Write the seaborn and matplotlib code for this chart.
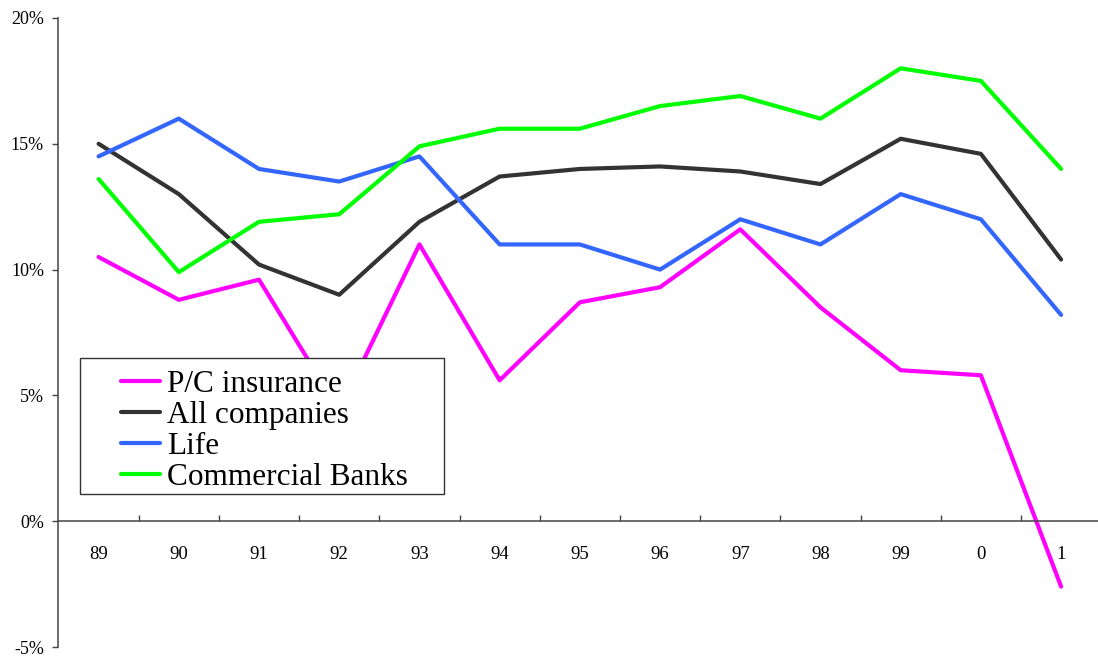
import matplotlib
matplotlib.use("Agg")
import matplotlib.pyplot as plt
import matplotlib.ticker as mticker
from matplotlib.patches import Rectangle
import seaborn as sns
import pandas as pd

years = ["89", "90", "91", "92", "93", "94", "95", "96", "97", "98", "99", "0", "1"]
pc_insurance = [10.5, 8.8, 9.6, 4.4, 11.0, 5.6, 8.7, 9.3, 11.6, 8.5, 6.0, 5.8, -2.6]
all_companies = [15.0, 13.0, 10.2, 9.0, 11.9, 13.7, 14.0, 14.1, 13.9, 13.4, 15.2, 14.6, 10.4]
life = [14.5, 16.0, 14.0, 13.5, 14.5, 11.0, 11.0, 10.0, 12.0, 11.0, 13.0, 12.0, 8.2]
commercial_banks = [13.6, 9.9, 11.9, 12.2, 14.9, 15.6, 15.6, 16.5, 16.9, 16.0, 18.0, 17.5, 14.0]

series_names = ["P/C insurance", "All companies", "Life", "Commercial Banks"]
series_values = [pc_insurance, all_companies, life, commercial_banks]
series_colors = ["#FF00FF", "#333333", "#3366FF", "#00FF00"]

rows = []
for name, vals in zip(series_names, series_values):
    for i, v in enumerate(vals):
        rows.append({"pos": i, "year": years[i], "value": v, "series": name})
df = pd.DataFrame(rows)

sns.set_style("white")
plt.rcParams["font.family"] = ["Liberation Serif", "DejaVu Serif"]
plt.rcParams["text.color"] = "black"
plt.rcParams["xtick.color"] = "black"
plt.rcParams["ytick.color"] = "black"

W, H = 1098, 659
fig = plt.figure(figsize=(W / 100, H / 100), dpi=100)
ax = fig.add_axes([58.5 / W, 1 - 647 / H, (W - 58.5) / W, (647 - 18) / H])

sns.lineplot(data=df, x="pos", y="value", hue="series", hue_order=series_names,
             palette=series_colors, linewidth=3.0, ax=ax, legend=True, sort=False)

ax.set_xlim(-0.5, 12.46)
ax.set_ylim(-5, 20)
ax.set_xlabel("")
ax.set_ylabel("")

axis_color = "#444444"
for side in ["top", "right"]:
    ax.spines[side].set_visible(False)
ax.spines["left"].set_color(axis_color)
ax.spines["left"].set_linewidth(1.1)
ax.spines["bottom"].set_position(("data", 0))
ax.spines["bottom"].set_color(axis_color)
ax.spines["bottom"].set_linewidth(1.1)

ax.yaxis.set_major_locator(mticker.MultipleLocator(5))
ax.yaxis.set_major_formatter(mticker.FuncFormatter(lambda v, p: f"{v:.0f}%"))
ax.tick_params(axis="y", which="major", direction="out", length=4.5, width=1.0,
               color=axis_color, labelcolor="black", pad=6, labelsize=13, left=True)

ax.set_xticks(range(len(years)))
ax.set_xticklabels(years)
ax.set_xticks([i + 0.5 for i in range(len(years) - 1)], minor=True)
ax.tick_params(axis="x", which="major", length=0, pad=18, labelsize=13.5,
               labelcolor="black", bottom=True)
ax.tick_params(axis="x", which="minor", direction="in", length=4.5, width=1.0,
               color=axis_color, bottom=True)

# Opaque frame for the legend, drawn over the lines
frame = Rectangle((80 / W, 1 - 494 / H), (444 - 80) / W, (494 - 358) / H,
                  transform=fig.transFigure, fill=True, facecolor="white",
                  edgecolor="#333333", linewidth=1.0, zorder=10, clip_on=False)
ax.add_artist(frame)

handles, labels = ax.get_legend_handles_labels()
for h in handles:
    h.set_linewidth(3.0)
leg = ax.legend(handles, labels, loc="upper left", bbox_to_anchor=(121 / W, 1 - 370 / H),
                bbox_transform=fig.transFigure, frameon=False, fontsize=22.5,
                handlelength=1.25, handletextpad=0.22, labelspacing=0.06, borderpad=0,
                borderaxespad=0)
leg.set_zorder(11)
for t in leg.get_texts():
    t.set_color("black")

fig.savefig("out.png", dpi=100)
